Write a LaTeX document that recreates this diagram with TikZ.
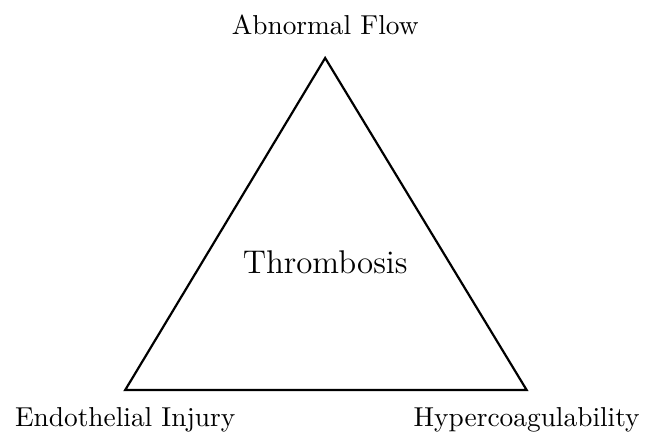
\documentclass[tikz,border=0pt]{standalone}
\usepackage{tikz}
\usetikzlibrary{positioning}

\begin{document}
\begin{tikzpicture}[
  scale=0.98,
  corner/.style={font=\normalsize},
  side/.style={black, thick, line join=miter},
]
  \useasboundingbox (0,0) rectangle (8.45,5.75);

  % vertices of the triad
  \coordinate (flow) at (4.26, 4.99);
  \coordinate (injury) at (1.64, 0.64);
  \coordinate (coag) at (6.90, 0.64);

  \draw[side] (flow) -- (injury) -- (coag) -- cycle;

  % labels
  \node[corner] (lflow) at (4.26, 5.42) {Abnormal Flow};
  \node[corner] (linjury) at (1.64, 0.25) {Endothelial Injury};
  \node[corner] (lcoag) at (6.90, 0.25) {Hypercoagulability};
  \node[font=\large] (thromb) at (4.26, 2.31) {Thrombosis};
\end{tikzpicture}
\end{document}
